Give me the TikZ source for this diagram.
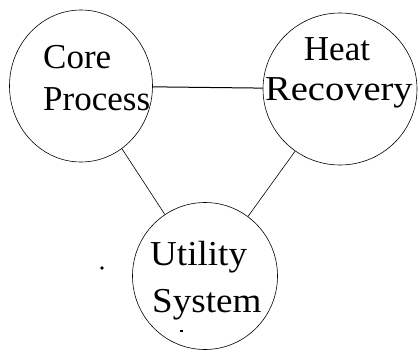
\documentclass[tikz,border=0pt]{standalone}
\usepackage{fontspec}
\setmainfont{Liberation Serif}
\usetikzlibrary{shapes.geometric}
\begin{document}
\begin{tikzpicture}[x=1pt,y=-1pt,
  proc/.style n args={2}{ellipse,draw=black,line width=0.6pt,minimum width=#1,minimum height=#2,inner sep=0pt},
  lbl/.style={inner sep=0pt,font=\fontsize{35}{35}\selectfont},
  link/.style={draw=black,line width=0.6pt}]
\useasboundingbox (0,0) rectangle (420,351);
\node[proc={143pt}{152pt}] (core) at (81,86) {};
\node[proc={154pt}{152pt}] (heat) at (340,89) {};
\node[proc={145pt}{147pt}] (util) at (205,276) {};
\draw[link,line width=1pt] (core) -- (heat);
\draw[link] (core) -- (util);
\draw[link] (heat) -- (util);
\node[lbl,anchor=base west] (tcore) at (43,68) {Core};
\node[lbl,anchor=base west] (tproc) at (43,110) {Process};
\node[lbl,anchor=base] (theat) at (337,60) {Heat};
\node[lbl,anchor=base west] (trec) at (265,100) {\scalebox{1.1}[1]{Recovery}};
\node[lbl,anchor=base west] (tutil) at (150,265) {\scalebox{1.06}[1]{Utility}};
\node[lbl,anchor=base west] (tsys) at (152,312) {\scalebox{1.06}[1]{System}};
\node[circle,fill=black,inner sep=1.4pt] (dot) at (102,268) {};
\node[fill=black,inner sep=0pt,minimum width=3pt,minimum height=1.2pt] (mark) at (181,331) {};
\end{tikzpicture}
\end{document}
